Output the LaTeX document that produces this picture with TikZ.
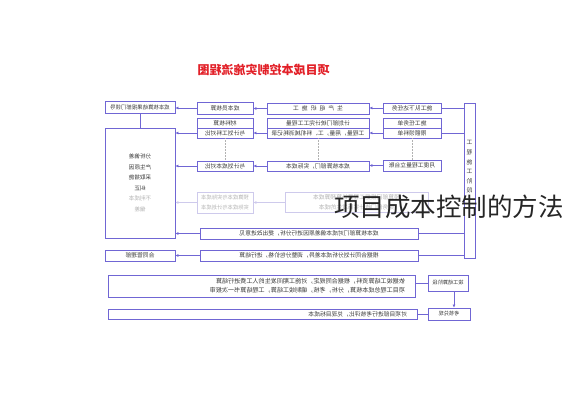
\documentclass[tikz,border=0pt]{standalone}
\usepackage{fontspec}
\setmainfont{Noto Sans CJK SC}
\usetikzlibrary{arrows.meta}
\definecolor{boxblue}{RGB}{112,102,212}
\definecolor{fadeblue}{RGB}{206,202,236}
\definecolor{fadetext}{RGB}{178,178,178}
\definecolor{titlered}{RGB}{226,32,40}
\definecolor{inkgray}{RGB}{58,58,58}

\begin{document}
\begin{tikzpicture}[x=1pt, y=-1pt,
    box/.style={draw=boxblue, line width=0.8pt, fill=white, inner sep=0pt, text=inkgray, font=\fontsize{5.8}{9}\selectfont},
    fadebox/.style={box, draw=fadeblue, text=fadetext},
    arr/.style={draw=boxblue, line width=0.7pt, -{Latex[length=3pt,width=3pt]}},
    fadearr/.style={arr, draw=fadeblue},
    lnk/.style={draw=boxblue, line width=0.7pt},
    dotlink/.style={draw=black!30, line width=0.5pt, densely dotted}]
\useasboundingbox (0,0) rectangle (565,400);

% the chart is printed mirrored
\begin{scope}[xshift=565pt, xscale=-1, transform shape]
    \node[text=titlered, font=\fontsize{12}{14}\selectfont\bfseries] (title) at (301.5,70) {项目成本控制实施流程图};

    % construction stage
    \node[box, minimum width=11pt, minimum height=155pt] (V) at (95.5,180.5) {};
    \node[text=inkgray, align=center, inner sep=0pt, font=\fontsize{5.8}{9.6}\selectfont] (VT) at (95.5,167) {工\\程\\施\\工\\阶\\段};

    \node[box, minimum width=58pt, minimum height=10pt] (B1) at (153,108) {施工队下达任务};
    \node[box, minimum width=102pt, minimum height=11pt] (C1) at (247,108.5) {生\hspace{3pt}产\hspace{3pt}组\hspace{3pt}织\hspace{3pt}施\hspace{3pt}工};
    \node[box, minimum width=56pt, minimum height=12pt] (D1) at (340,108) {成本员核算};
    \node[box, minimum width=70pt, minimum height=12pt, font=\fontsize{5.4}{9}\selectfont] (E1) at (425,107.5) {成本核算结果报部门领导};

    \node[box, minimum width=58pt, minimum height=10pt] (B2a) at (153,123) {施工任务单};
    \node[box, minimum width=58pt, minimum height=10pt] (B2b) at (153,133) {限额领料单};
    \node[box, minimum width=102pt, minimum height=10pt] (C2a) at (247,123) {计划部门统计完工工程量};
    \node[box, minimum width=102pt, minimum height=10pt] (C2b) at (247,133) {工程量，用量，工、料机械消耗记录};
    \node[box, minimum width=56pt, minimum height=10pt] (D2a) at (340,123) {材料核算};
    \node[box, minimum width=56pt, minimum height=10pt] (D2b) at (340,133) {与计划工料对比};
    \node[box, minimum width=70pt, minimum height=110pt, align=center, font=\fontsize{5.6}{10.5}\selectfont] (E2) at (425,183)
        {分析偏差\\产生原因\\采取措施\\纠正\\\textcolor{fadetext}{不利成本}\\\textcolor{fadetext}{偏差}};

    \node[box, minimum width=58pt, minimum height=11pt] (B3) at (153,165.5) {月度工程量立台账};
    \node[box, minimum width=102pt, minimum height=10pt] (C3) at (247,166) {成本核算部门，实际成本};
    \node[box, minimum width=56pt, minimum height=10pt] (D3) at (340,166) {与计划成本对比};

    \node[fadebox, minimum width=143pt, minimum height=20pt, align=center, font=\fontsize{5.8}{10}\selectfont] (C4) at (208.5,202)
        {预算部门根据工程量计算预算成本\\财务部门统计实际发生的成本};
    \node[fadebox, minimum width=56pt, minimum height=21pt, align=center, font=\fontsize{5.3}{10.5}\selectfont] (D4) at (340,202.5)
        {预算成本与实际成本\\实际成本与计划成本};

    \node[box, minimum width=218pt, minimum height=11pt] (R5) at (256,233.5) {成本核算部门对成本偏差原因进行分析，提出改进意见};
    \node[box, minimum width=218pt, minimum height=11pt] (R6) at (256,255.5) {根据合同计划分析成本差异，调整分包价格，进行结算};
    \node[box, minimum width=70pt, minimum height=11pt] (E6) at (425,255.5) {合同管理部};

    \draw[lnk] (V.east |- B1.west) -- (B1.west);
    \draw[arr] (B1.east) -- (B1.east -| C1.west);
    \draw[arr] (C1.east) -- (C1.east -| D1.west);
    \draw[arr] (D1.east) -- (D1.east -| E1.west);
    \draw[lnk] (E1.south) -- (E2.north);

    \draw[lnk] (V.east |- B2b.west) -- (B2b.west);
    \draw[arr] (B2b.east) -- (C2b.west);
    \draw[arr] (C2b.east) -- (D2b.west);
    \draw[arr] (D2b.east) -- (D2b.east -| E2.west);

    \draw[dotlink] (B2b.south) -- (B3.north);
    \draw[dotlink] (C2b.south) -- (C3.north);
    \draw[dotlink] (D2b.south) -- (D3.north);

    \draw[arr] (B3.east) -- (B3.east -| C3.west);
    \draw[arr] (C3.east) -- (D3.west);
    \draw[arr] (D3.east) -- (D3.east -| E2.west);

    \draw[fadearr] (C4.east |- D4.west) -- (D4.west);
    \draw[fadearr] (D4.east) -- (D4.east -| E2.west);

    \draw[lnk] (V.east |- R5.west) -- (R5.west);
    \draw[arr] (R5.east) -- (R5.east -| E2.west);
    \draw[lnk] (V.east |- R6.west) -- (R6.west);
    \draw[arr] (R6.east) -- (E6.west);

    % settlement stage
    \node[box, minimum width=40pt, minimum height=16pt, font=\fontsize{5.2}{9}\selectfont] (K1) at (117,283) {竣工结算阶段};
    \node[box, text width=287pt, inner xsep=10pt, minimum height=22pt, align=left, font=\fontsize{6.1}{9}\selectfont] (W1) at (303.5,286)
        {依据竣工结算资料，根据合同规定，对施工期间发生的人工费进行结算\\项目工程总成本核算，分析，考核，编制竣工结算，工程结算书一次报审};
    \node[box, minimum width=42pt, minimum height=12pt, font=\fontsize{5.2}{9}\selectfont] (K2) at (116,314) {考核兑现};
    \node[box, text width=289pt, inner xsep=10pt, minimum height=10pt, align=left] (W2) at (302.5,314)
        {对项目部进行考核评比，兑现目标成本};

    \draw[lnk] (K1.east) -- (K1.east -| W1.west);
    \draw[arr] ([xshift=-6pt]K1.south) -- ([xshift=-6pt]K1.south |- K2.north);
    \draw[lnk] (K2.east) -- (W2.west);
\end{scope}

\node[anchor=east, inner sep=0pt, text=black!85, font=\fontsize{25.5}{27}\selectfont] (wm) at (564,207) {项目成本控制的方法};
\end{tikzpicture}
\end{document}
